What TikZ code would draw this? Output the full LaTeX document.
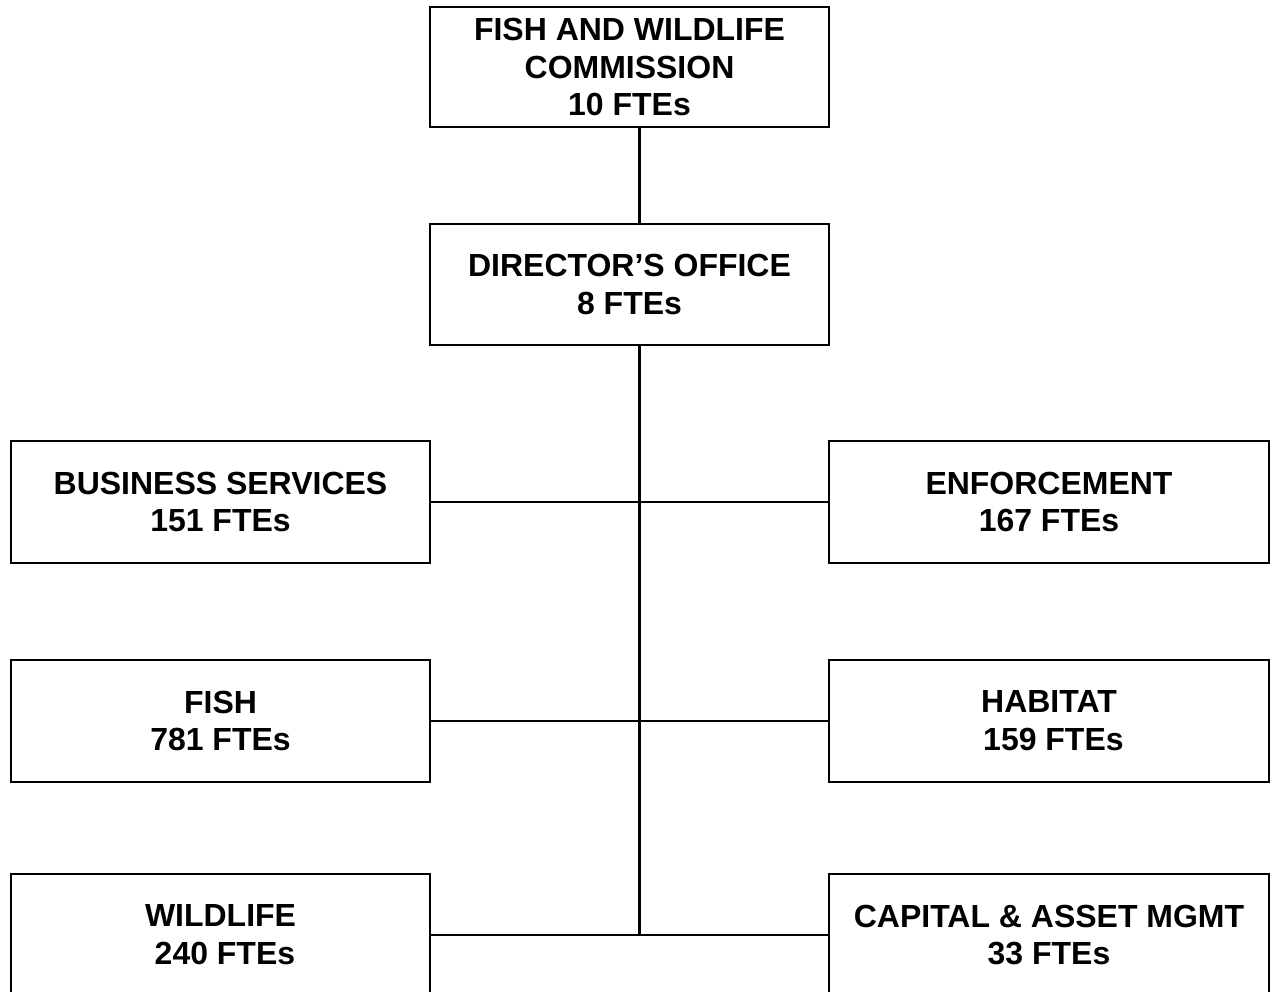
\documentclass[tikz,border=0pt]{standalone}
\usepackage{fontspec}
\setmainfont{Liberation Sans}
\usetikzlibrary{positioning}

\tikzset{
  unit/.style={draw, black, line width=1.4pt, align=center, inner sep=0pt,
    font=\fontsize{18.2}{21.5}\selectfont\bfseries},
  link/.style={black, line width=1.4pt}
}

\begin{document}
\begin{tikzpicture}
\clip (0,0) rectangle (25.4,-19.84); % page
\fill [white] (0,0) rectangle (25.4,-19.84);
\coordinate (trunk) at (12.79,0);
\node [unit, minimum width=7.98cm, minimum height=2.4cm] (comm) at (12.59,-1.34) {FISH AND WILDLIFE\\COMMISSION\\10 FTEs};
\node [unit, minimum width=7.98cm, minimum height=2.42cm] (dir) at (12.59,-5.69) {DIRECTOR’S OFFICE\\8 FTEs};
\node [unit, minimum width=8.38cm, minimum height=2.44cm] (bus) at (4.41,-10.04) {BUSINESS SERVICES\\151 FTEs};
\node [unit, minimum width=8.8cm, minimum height=2.44cm] (enf) at (20.98,-10.04) {ENFORCEMENT\\167 FTEs};
\node [unit, minimum width=8.38cm, minimum height=2.44cm] (fish) at (4.41,-14.42) {FISH\\781 FTEs};
\node [unit, minimum width=8.8cm, minimum height=2.44cm] (hab) at (20.98,-14.42) {HABITAT\\\ 159 FTEs};
\node [unit, minimum width=8.38cm, minimum height=2.44cm] (wild) at (4.41,-18.7) {WILDLIFE\\\ 240 FTEs};
\node [unit, minimum width=8.8cm, minimum height=2.44cm] (cap) at (20.98,-18.7) {CAPITAL \& ASSET MGMT\\33 FTEs};
\draw [link] (comm.south -| trunk) -- (dir.north -| trunk);
\draw [link] (dir.south -| trunk) -- (wild.east -| trunk); % ...
\draw [link] (bus.east) -- (enf.west);
\draw [link] (fish.east) -- (hab.west);
\draw [link] (wild.east) -- (cap.west);
\end{tikzpicture}
\end{document}
